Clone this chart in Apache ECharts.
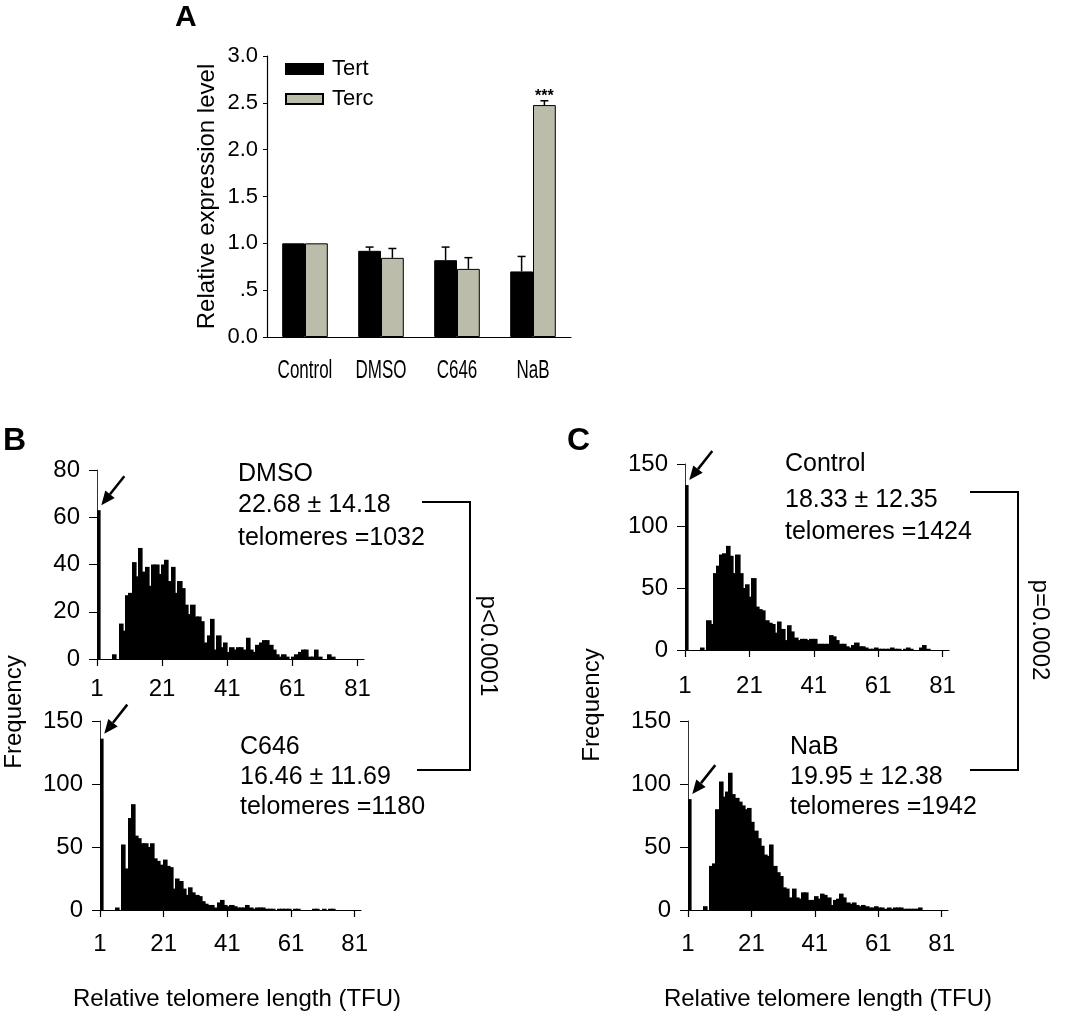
<!DOCTYPE html>
<html>
<head>
<meta charset="UTF-8">
<title>Telomere expression and length</title>
<script src="https://cdn.jsdelivr.net/npm/echarts@6/dist/echarts.min.js"></script>
<style>html,body{margin:0;padding:0;background:#fff;}</style>
</head>
<body>
<div id="main" style="width:1065px;height:1020px;"></div>
<script>
// panel A
var groups = ['Control', 'DMSO', 'C646', 'NaB'];
var tertMean = [1.0, 0.92, 0.82, 0.70];
var tertErr = [0, 0.04, 0.14, 0.16];
var tercMean = [1.0, 0.845, 0.727, 2.476];
var tercErr = [0, 0.10, 0.12, 0.046];
var tercSig = ['', '', '', '***'];
var yTickValsA = [0, 0.5, 1, 1.5, 2, 2.5, 3];
var yTickTextA = ['0.0', '.5', '1.0', '1.5', '2.0', '2.5', '3.0'];

// panels B and C: frequency per TFU bin, index 0 = TFU 1 ... index 80 = TFU 81
var tfuTickPos = [0, 20, 40, 60, 80];
var tfuTickText = ['1', '21', '41', '61', '81'];
var dmsoFreq = [
  63, 0, 0, 0, 0, 2, 0, 15, 12, 27,
  28, 41, 35, 47, 37, 39, 31, 40, 40, 36,
  40, 42, 33, 39, 28, 33, 30, 23, 19, 23,
  18, 18, 16, 7, 10, 17, 4, 10, 5, 7,
  3, 5, 4, 5, 5, 4, 9, 4, 3, 6,
  7, 8, 8, 6, 4, 2, 1, 2, 1, 0,
  1, 2, 3, 4, 4, 1, 1, 4, 1, 0,
  0, 2, 1, 0, 0, 0, 0, 0, 0, 0,
  0];
var c646Freq = [
  136, 0, 0, 0, 0, 2, 0, 52, 33, 73,
  84, 59, 57, 53, 53, 50, 53, 41, 39, 36,
  40, 35, 34, 17, 25, 23, 17, 12, 18, 14,
  12, 11, 7, 5, 4, 4, 2, 6, 8, 4,
  3, 4, 3, 2, 2, 2, 4, 2, 1, 2,
  2, 2, 1, 1, 1, 0, 1, 1, 1, 1,
  0, 1, 1, 0, 0, 0, 0, 1, 1, 0,
  1, 0, 1, 1, 0, 0, 0, 0, 0, 0,
  0];
var controlFreq = [
  133, 0, 0, 0, 0, 2, 0, 24, 21, 62,
  68, 77, 78, 84, 76, 62, 77, 62, 50, 53,
  43, 58, 35, 33, 32, 24, 22, 21, 14, 23,
  17, 8, 20, 15, 10, 8, 9, 9, 8, 9,
  9, 5, 5, 5, 5, 12, 11, 8, 5, 5,
  3, 2, 4, 6, 3, 3, 2, 1, 1, 2,
  1, 1, 1, 1, 2, 1, 1, 0, 1, 2,
  1, 0, 0, 2, 4, 1, 0, 0, 0, 0,
  0];
var nabFreq = [
  88, 0, 0, 0, 0, 3, 0, 35, 37, 80,
  102, 90, 94, 109, 92, 89, 86, 83, 80, 81,
  70, 63, 57, 51, 44, 43, 52, 35, 30, 27,
  18, 17, 10, 17, 10, 9, 14, 14, 8, 8,
  11, 9, 13, 12, 10, 4, 8, 9, 13, 10,
  6, 5, 6, 4, 3, 4, 3, 2, 2, 3,
  2, 2, 1, 2, 1, 2, 2, 2, 1, 1,
  1, 1, 1, 2, 0, 0, 0, 0, 0, 0,
  0];

var histSets = [dmsoFreq, c646Freq, controlFreq, nabFreq];
var histMax = [80, 150, 150, 150];
var histStep = [20, 50, 50, 50];

var SANS = '"Liberation Sans", Arial, sans-serif';
var TERC_GRAY = '#bcbcab';

var chart = echarts.init(document.getElementById('main'));

function histItem(params, api) {
  var x = api.value(0), y = api.value(1);
  if (!y) return null;
  var p0 = api.coord([x - 0.2, y]);
  var p1 = api.coord([x + 0.8, 0]);
  // widen by a pixel so neighbouring bins join without hairline gaps
  var rect = echarts.graphic.clipRectByRect({
    x: Math.floor(p0[0]), y: p0[1], width: Math.ceil(p1[0]) - Math.floor(p0[0]) + 0.6, height: p1[1] - p0[1]
  }, {
    x: params.coordSys.x, y: params.coordSys.y,
    width: params.coordSys.width, height: params.coordSys.height
  });
  return rect && { type: 'rect', shape: rect, style: { fill: '#000' } };
}

function errorItem(params, api) {
  var cat = api.value(0), mean = api.value(1), err = api.value(2), side = api.value(3);
  if (!err) return null;
  var band = api.size([1, 0])[0];
  var base = api.coord([cat, mean]);
  var top = api.coord([cat, mean + err]);
  var x = base[0] + side * band * 0.15;
  var kids = [
    { type: 'line', shape: { x1: x, y1: base[1], x2: x, y2: top[1] }, style: { stroke: '#000', lineWidth: 1.5 } },
    { type: 'line', shape: { x1: x - 4, y1: top[1], x2: x + 4, y2: top[1] }, style: { stroke: '#000', lineWidth: 1.5 } }
  ];
  var sig = side > 0 ? tercSig[cat] : '';
  if (sig) {
    kids.push({ type: 'text', x: x, y: top[1] - 4,
      style: { text: sig, fontSize: 16, fontWeight: 'bold', fontFamily: SANS, fill: '#000', align: 'center', verticalAlign: 'middle' } });
  }
  return { type: 'group', children: kids };
}

var errData = [];
for (var i = 0; i < groups.length; i++) {
  errData.push([i, tertMean[i], tertErr[i], -1]);
  errData.push([i, tercMean[i], tercErr[i], 1]);
}

var grids = [
  { left: 267, top: 56, width: 304, height: 281 },
  { left: 97, top: 470, width: 267, height: 189 },
  { left: 100, top: 721, width: 261, height: 189 },
  { left: 685, top: 464, width: 264, height: 186 },
  { left: 688, top: 721, width: 260, height: 189 }
];
var xLabelMargin = [0, 18, 22, 24, 22];

var xAxes = [{
  type: 'category', gridIndex: 0, data: groups,
  axisLine: { lineStyle: { color: '#000', width: 1.2 } },
  axisTick: { alignWithLabel: true, length: 6, lineStyle: { color: '#000' } },
  axisLabel: { show: false }
}];
var yAxes = [{
  type: 'value', gridIndex: 0, min: 0, max: 3, interval: 0.5,
  axisLine: { show: true, lineStyle: { color: '#000', width: 1.2 } },
  axisTick: { show: true, length: 4, lineStyle: { color: '#000' } },
  splitLine: { show: false },
  axisLabel: {
    color: '#000', fontFamily: SANS, fontSize: 22, margin: 9,
    formatter: function (v) { var k = yTickValsA.indexOf(v); return k >= 0 ? yTickTextA[k] : ''; }
  },
  name: 'Relative expression level', nameLocation: 'middle', nameGap: 48, nameRotate: 90,
  nameTextStyle: { color: '#000', fontFamily: SANS, fontSize: 24 }
}];
var series = [
  { type: 'bar', name: 'Tert', xAxisIndex: 0, yAxisIndex: 0, data: tertMean, barWidth: '30%', barGap: '0%',
    itemStyle: { color: '#000', borderColor: '#000', borderWidth: 1 } },
  { type: 'bar', name: 'Terc', xAxisIndex: 0, yAxisIndex: 0, data: tercMean, barWidth: '30%', barGap: '0%',
    itemStyle: { color: TERC_GRAY, borderColor: '#000', borderWidth: 1 } },
  { type: 'custom', name: 'err', xAxisIndex: 0, yAxisIndex: 0, data: errData, renderItem: errorItem, z: 5 }
];

for (var g = 1; g <= 4; g++) {
  xAxes.push({
    type: 'value', gridIndex: g, min: 0, max: 82,
    axisLine: { show: true, onZero: false, lineStyle: { color: '#000', width: 1.2 } },
    axisTick: { show: true, length: 7, customValues: tfuTickPos, lineStyle: { color: '#000', width: 1.2 } },
    splitLine: { show: false },
    axisLabel: {
      color: '#000', fontFamily: SANS, fontSize: 24, margin: xLabelMargin[g], customValues: tfuTickPos,
      formatter: function (v) { var k = tfuTickPos.indexOf(v); return k >= 0 ? tfuTickText[k] : ''; }
    }
  });
  yAxes.push({
    type: 'value', gridIndex: g, min: 0, max: histMax[g - 1], interval: histStep[g - 1],
    axisLine: { show: true, lineStyle: { color: '#333', width: 1 } },
    axisTick: { show: true, length: 8, lineStyle: { color: '#000' } },
    splitLine: { show: false },
    axisLabel: { color: '#000', fontFamily: SANS, fontSize: 24, margin: 17 }
  });
  series.push({
    type: 'custom', xAxisIndex: g, yAxisIndex: g, renderItem: histItem,
    data: histSets[g - 1].map(function (v, k) { return [k, v]; })
  });
}

function txt(id, x, y, s, size, opts) {
  opts = opts || {};
  return {
    type: 'text', id: id, x: x, y: y, rotation: opts.rotation || 0, scaleX: opts.scaleX || 1, z: 10,
    style: { text: s, fontSize: size, fontFamily: SANS, fontWeight: opts.bold ? 'bold' : 'normal',
      fill: '#000', align: opts.align || 'left', verticalAlign: 'middle' }
  };
}

var graphics = [
  txt('lA', 175, 18, 'A', 30, { bold: true }),
  txt('lB', 3, 441, 'B', 32, { bold: true }),
  txt('lC', 567, 441, 'C', 32, { bold: true }),
  txt('d1', 238, 474, 'DMSO', 25), txt('d2', 238, 505, '22.68 \u00b1 14.18', 25), txt('d3', 238, 538, 'telomeres =1032', 25),
  txt('c1', 240, 747, 'C646', 25), txt('c2', 240, 777, '16.46 \u00b1 11.69', 25), txt('c3', 240, 807, 'telomeres =1180', 25),
  txt('k1', 785, 464, 'Control', 25), txt('k2', 785, 500, '18.33 \u00b1 12.35', 25), txt('k3', 785, 532, 'telomeres =1424', 25),
  txt('n1', 790, 747, 'NaB', 25), txt('n2', 790, 777, '19.95 \u00b1 12.38', 25), txt('n3', 790, 807, 'telomeres =1942', 25),
  txt('fB', 14, 712, 'Frequency', 24, { align: 'center', rotation: Math.PI / 2 }),
  txt('fC', 592, 705, 'Frequency', 24, { align: 'center', rotation: Math.PI / 2 }),
  txt('xB', 237, 999, 'Relative telomere length (TFU)', 24, { align: 'center' }),
  txt('xC', 828, 999, 'Relative telomere length (TFU)', 24, { align: 'center' }),
  txt('pB', 488, 646, 'p<0.0001', 24, { align: 'center', rotation: -Math.PI / 2 }),
  txt('pC', 1040, 630, 'p=0.0002', 24, { align: 'center', rotation: -Math.PI / 2 }),
  { type: 'polyline', id: 'brB', shape: { points: [[422, 502], [470, 502], [470, 770], [417, 770]] },
    style: { stroke: '#000', lineWidth: 2, fill: null } },
  { type: 'polyline', id: 'brC', shape: { points: [[970, 492], [1018, 492], [1018, 770], [970, 770]] },
    style: { stroke: '#000', lineWidth: 2, fill: null } }
];

chart.setOption({
  animation: false,
  backgroundColor: '#fff',
  textStyle: { fontFamily: SANS },
  grid: grids,
  legend: {
    data: ['Tert', 'Terc'], orient: 'vertical', left: 280, top: 53,
    icon: 'rect', itemWidth: 37, itemHeight: 10, itemGap: 8,
    textStyle: { color: '#000', fontFamily: SANS, fontSize: 22, lineHeight: 20, padding: [0, 0, 0, 4] }
  },
  xAxis: xAxes,
  yAxis: yAxes,
  series: series,
  graphic: { elements: graphics }
});

var extra = [];
// condensed category labels of panel A, placed under each category tick
groups.forEach(function (name, k) {
  var p = chart.convertToPixel({ gridIndex: 0 }, [k, 0]);
  extra.push(txt('cat' + k, p[0], p[1] + 34, name, 25, { align: 'center', scaleX: 0.68 }));
});
// arrows pointing at the first (shortest length) bin of each histogram
histSets.forEach(function (freq, k) {
  var tip = chart.convertToPixel({ gridIndex: k + 1 }, [0.4, freq[0]]);
  var hx = tip[0] + 3, hy = tip[1] - 5;
  var tx = hx + 23, ty = hy - 29;
  var dx = hx - tx, dy = hy - ty, len = Math.sqrt(dx * dx + dy * dy);
  var ux = dx / len, uy = dy / len;
  var bx = hx - ux * 14, by = hy - uy * 14;
  extra.push({ type: 'line', id: 'arL' + k, shape: { x1: tx, y1: ty, x2: bx, y2: by },
    style: { stroke: '#000', lineWidth: 2.5 } });
  extra.push({ type: 'polygon', id: 'arH' + k,
    shape: { points: [[hx, hy], [bx - uy * 6, by + ux * 6], [bx + uy * 6, by - ux * 6]] },
    style: { fill: '#000' } });
});
chart.setOption({ graphic: { elements: extra } });
</script>
</body>
</html>
